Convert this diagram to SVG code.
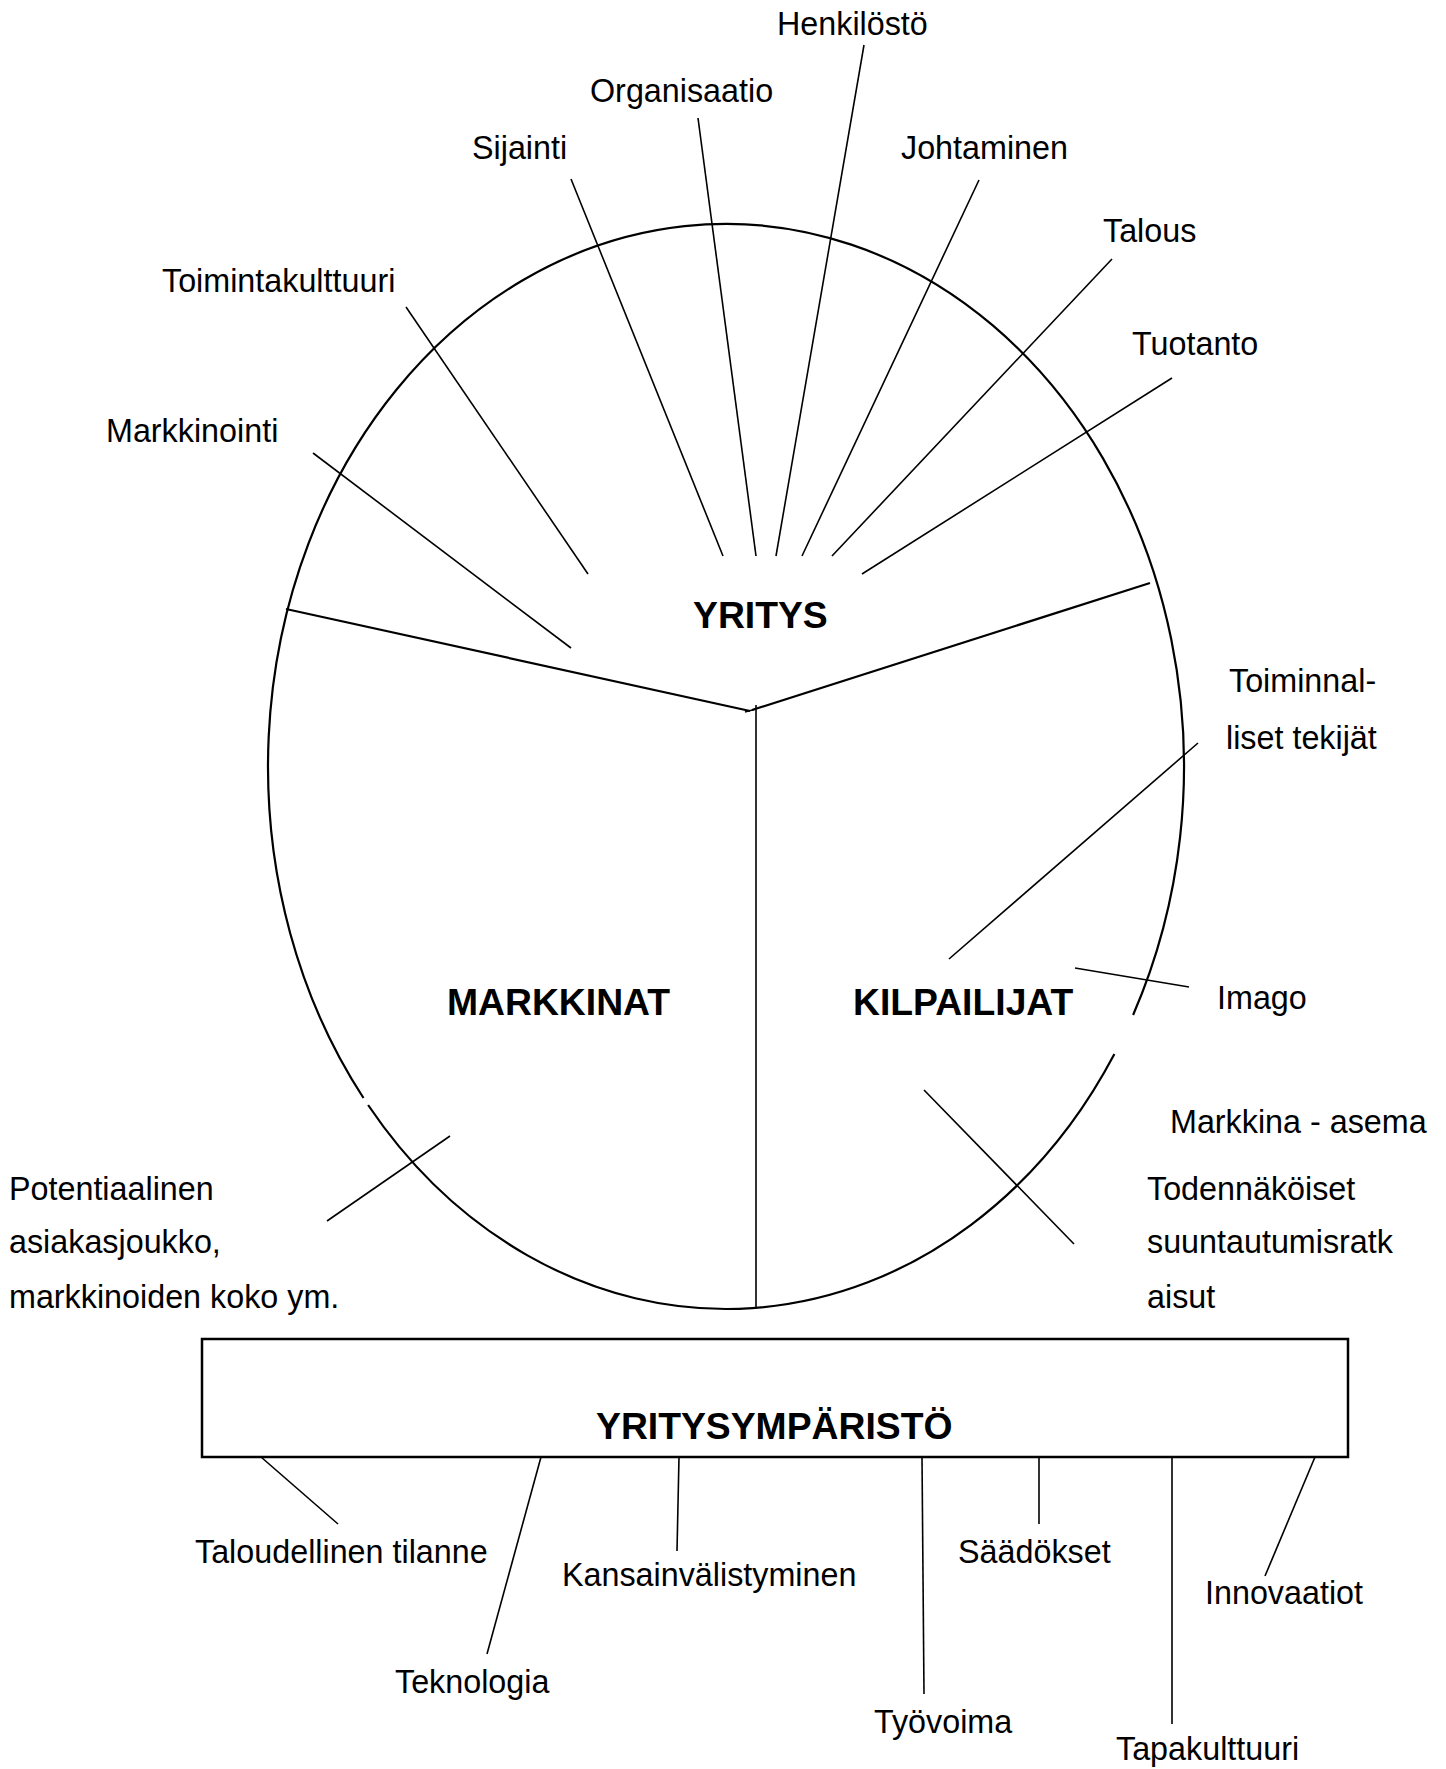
<svg xmlns="http://www.w3.org/2000/svg" width="1446" height="1769" viewBox="0 0 1446 1769">
<style>
.t{font-family:"Liberation Sans",Arial,sans-serif;font-size:32.3px;fill:#000}
.b{font-family:"Liberation Sans",Arial,sans-serif;font-size:37.3px;font-weight:bold;fill:#000}
.l{stroke:#000;stroke-width:1.6;fill:none}
.o{stroke:#000;stroke-width:2.2;fill:none}
</style>
<rect width="1446" height="1769" fill="#fff"/>
<g id="ellipse">
<path class="o" d="M1133.1,1015 A458,542.5 0 1 0 363.5,1098 M368.1,1105 A458,542.5 0 0 0 1114.4,1054"/>
</g>
<g id="dividers">
<line class="o" x1="286" y1="609" x2="750" y2="711"/>
<line class="o" x1="1150" y1="583" x2="752" y2="710"/>
<line class="l" x1="756" y1="705" x2="756" y2="1309"/>
<line class="l" x1="745" y1="712" x2="756" y2="709"/>
</g>
<g id="yritys"><text class="b" x="693" y="628">YRITYS</text></g>
<g id="markkinat"><text class="b" x="447" y="1015">MARKKINAT</text></g>
<g id="kilpailijat"><text class="b" x="853" y="1015">KILPAILIJAT</text></g>
<g id="yritysymparisto">
<rect x="202" y="1339" width="1146" height="118" fill="none" stroke="#000" stroke-width="2.5"/>
<text class="b" x="596" y="1439">YRITYSYMPÄRISTÖ</text>
</g>
<g id="labels">
<text class="t" x="777" y="35">Henkilöstö</text>
<text class="t" x="590" y="102">Organisaatio</text>
<text class="t" x="472" y="159">Sijainti</text>
<text class="t" x="901" y="159">Johtaminen</text>
<text class="t" x="1103" y="242">Talous</text>
<text class="t" x="1132" y="355">Tuotanto</text>
<text class="t" x="162" y="292">Toimintakulttuuri</text>
<text class="t" x="106" y="442">Markkinointi</text>
<text class="t" x="1229" y="692">Toiminnal-</text>
<text class="t" x="1226" y="749">liset tekijät</text>
<text class="t" x="1217" y="1009">Imago</text>
<text class="t" x="1170" y="1133">Markkina - asema</text>
<text class="t" x="1147" y="1200">Todennäköiset</text>
<text class="t" x="1147" y="1253">suuntautumisratk</text>
<text class="t" x="1147" y="1308">aisut</text>
<text class="t" x="9" y="1200">Potentiaalinen</text>
<text class="t" x="9" y="1253">asiakasjoukko,</text>
<text class="t" x="9" y="1308">markkinoiden koko ym.</text>
<text class="t" x="195" y="1563">Taloudellinen tilanne</text>
<text class="t" x="562" y="1586">Kansainvälistyminen</text>
<text class="t" x="958" y="1563">Säädökset</text>
<text class="t" x="1205" y="1604">Innovaatiot</text>
<text class="t" x="395" y="1693">Teknologia</text>
<text class="t" x="874" y="1733">Työvoima</text>
<text class="t" x="1116" y="1760">Tapakulttuuri</text>
</g>
<g id="connectors">
<line class="l" x1="571" y1="179" x2="723" y2="556"/>
<line class="l" x1="698" y1="118" x2="756" y2="556"/>
<line class="l" x1="864" y1="45" x2="776" y2="556"/>
<line class="l" x1="979" y1="180" x2="802" y2="556"/>
<line class="l" x1="1112" y1="259" x2="832" y2="556"/>
<line class="l" x1="1172" y1="378" x2="862" y2="574"/>
<line class="l" x1="406" y1="307" x2="588" y2="574"/>
<line class="l" x1="313" y1="453" x2="571" y2="648"/>
<line class="l" x1="1198" y1="743" x2="949" y2="959"/>
<line class="l" x1="1075" y1="968" x2="1189" y2="987"/>
<line class="l" x1="924" y1="1090" x2="1074" y2="1244"/>
<line class="l" x1="450" y1="1136" x2="327" y2="1221"/>
<line class="l" x1="261" y1="1457" x2="338" y2="1524"/>
<line class="l" x1="541" y1="1457" x2="487" y2="1654"/>
<line class="l" x1="679" y1="1457" x2="677" y2="1551"/>
<line class="l" x1="922" y1="1457" x2="924" y2="1694"/>
<line class="l" x1="1039" y1="1457" x2="1039" y2="1524"/>
<line class="l" x1="1172" y1="1457" x2="1172" y2="1724"/>
<line class="l" x1="1315" y1="1457" x2="1265" y2="1576"/>
</g>
</svg>
